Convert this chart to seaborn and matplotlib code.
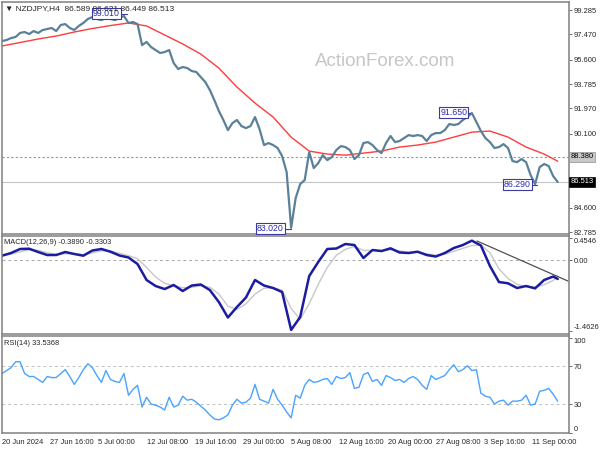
import numpy as np
import pandas as pd
import seaborn as sns
import matplotlib.pyplot as plt

sns.set_style('white')
plt.rcParams['font.family'] = ['Liberation Sans', 'DejaVu Sans']

# NZDJPY H4, un cierre cada 3 velas
price_bars = np.arange(0, 372, 3)
close = [96.98, 97.05, 97.20, 97.28, 97.58, 97.65, 97.50, 97.72, 97.58, 97.80,
         97.87, 97.95, 97.72, 98.17, 98.24, 97.95, 97.80, 98.10, 98.32, 98.62,
         98.76, 98.62, 98.54, 98.69, 98.62, 98.54, 98.69, 98.84, 98.32, 98.39,
         98.24, 96.68, 96.91, 96.53, 96.31, 96.09, 96.16, 96.31, 95.34, 94.90,
         95.05, 94.97, 94.75, 94.68, 94.30, 93.93, 93.34, 92.59, 91.78, 91.11,
         90.36, 90.88, 91.11, 90.66, 90.51, 90.66, 91.33, 90.44, 89.25, 89.40,
         89.25, 89.03, 88.43, 87.24, 83.10, 85.31, 86.35, 86.65, 88.73, 87.54,
         87.91, 88.50, 88.13, 88.36, 88.88, 89.17, 89.10, 88.88, 88.21, 88.50,
         89.40, 89.47, 89.25, 88.88, 88.65, 89.40, 89.92, 89.47, 89.55, 89.77,
         89.99, 89.92, 89.99, 89.92, 89.55, 89.99, 90.14, 90.14, 90.36, 90.81,
         90.74, 90.81, 91.11, 91.33, 91.63, 90.96, 90.29, 89.77, 89.47, 89.03,
         89.10, 89.32, 89.03, 88.06, 87.98, 88.21, 87.98, 87.02, 86.35, 87.61,
         87.84, 87.69, 86.94, 86.51]

# media móvil (línea roja)
ma_bars = list(range(0, 361, 12)) + [369]
ma = [96.61, 96.87, 97.13, 97.35, 97.65, 97.91, 98.13, 98.32, 98.10, 97.43,
      96.76, 96.01, 94.97, 93.56, 92.37, 91.33, 89.84, 88.80, 88.58, 88.50,
      88.65, 88.80, 89.10, 89.25, 89.47, 89.84, 90.21, 90.29, 89.84, 89.10,
      88.58, 88.05]

# MACD(12,26,9)
macd_bars = list(range(0, 367, 6)) + [369]
macd = [0.090, 0.145, 0.228, 0.234, 0.166, 0.104, 0.104, 0.166, 0.125, 0.090,
        0.197, 0.228, 0.172, 0.094, 0.053, -0.082, -0.411, -0.535, -0.597, -0.514,
        -0.638, -0.525, -0.504, -0.618, -0.865, -1.184, -0.968, -0.772, -0.411, -0.525,
        -0.576, -0.659, -1.44, -1.174, -0.329, -0.040, 0.228, 0.238, 0.331, 0.310,
        0.042, 0.207, 0.186, 0.242, 0.156, 0.145, 0.172, 0.104, 0.073, 0.145,
        0.248, 0.310, 0.40, 0.30, -0.123, -0.453, -0.479, -0.576, -0.535, -0.583,
        -0.411, -0.339, -0.389]
signal = [0.10, 0.12, 0.17, 0.21, 0.20, 0.15, 0.12, 0.13, 0.13, 0.11,
          0.15, 0.19, 0.19, 0.14, 0.09, 0.03, -0.15, -0.35, -0.48, -0.53,
          -0.57, -0.56, -0.53, -0.56, -0.70, -0.95, -1.02, -0.90, -0.70, -0.58,
          -0.57, -0.62, -1.00, -1.22, -0.90, -0.50, -0.15, 0.10, 0.22, 0.28,
          0.20, 0.20, 0.19, 0.21, 0.19, 0.16, 0.16, 0.13, 0.10, 0.12,
          0.18, 0.24, 0.30, 0.31, 0.15, -0.18, -0.38, -0.50, -0.55, -0.56,
          -0.51, -0.42, -0.33]
trend_bars = [315.4, 375.8]
trend_vals = [0.393, -0.432]

# RSI(14)
rsi = [62.5, 65.6, 68.7, 74.9, 74.9, 62.5, 59.4, 59.4, 56.3, 53.2,
       59.4, 58.3, 58.3, 62.5, 66.6, 59.4, 51.1, 58.3, 66.6, 72.8,
       68.7, 60.4, 53.2, 65.6, 56.3, 54.2, 53.2, 62.5, 39.7, 45.9,
       50.1, 27.3, 37.6, 30.4, 29.3, 27.3, 24.2, 37.6, 27.3, 29.3,
       38.7, 34.5, 35.5, 32.4, 28.3, 24.2, 19.0, 14.8, 13.8, 15.9,
       19.0, 29.3, 35.5, 31.4, 32.4, 36.6, 51.1, 35.5, 33.5, 31.4,
       45.9, 35.5, 29.3, 22.1, 15.9, 39.7, 36.6, 50.1, 56.3, 53.2,
       54.2, 56.3, 57.3, 51.1, 59.4, 57.3, 58.3, 63.5, 46.9, 48.0,
       61.5, 63.5, 54.2, 56.3, 50.1, 60.4, 58.3, 55.2, 56.3, 53.2,
       57.3, 59.4, 56.3, 50.1, 45.9, 60.4, 56.3, 58.3, 60.4, 66.6,
       71.8, 64.5, 66.6, 70.7, 65.6, 66.6, 41.8, 38.7, 37.6, 30.4,
       33.5, 34.5, 29.3, 33.5, 33.5, 34.5, 39.7, 29.3, 30.4, 43.8,
       44.9, 46.9, 40.7, 33.5]

# máximos / mínimos marcados
hl_bars = [83, 192, 311, 355]
hl_vals = [99.010, 83.020, 91.650, 86.290]
hl_offset = [5, 5, 2, 4]

level_line = 88.380
last_price = 86.513

price_ticks = [99.285, 97.470, 95.600, 93.785, 91.970, 90.100, 84.600, 82.785]
tick_bars = np.arange(0, 353, 32)
tick_labels = ['20 Jun 2024', '27 Jun 16:00', '5 Jul 00:00', '12 Jul 08:00',
               '19 Jul 16:00', '29 Jul 00:00', '5 Aug 08:00', '12 Aug 16:00',
               '20 Aug 00:00', '27 Aug 08:00', '3 Sep 16:00', '11 Sep 00:00']

df_price = pd.DataFrame({'bar': price_bars, 'close': close, 'rsi': rsi})
df_ma = pd.DataFrame({'bar': ma_bars, 'ma': ma})
df_macd = pd.DataFrame({'bar': macd_bars, 'macd': macd, 'signal': signal})

fig = plt.figure(figsize=(6, 4.5), dpi=100)
W, H = 600, 450
ax1 = fig.add_axes([2 / W, 1 - 234 / H, 567 / W, 232 / H])
ax2 = fig.add_axes([2 / W, 1 - 334 / H, 567 / W, 98 / H])
ax3 = fig.add_axes([2 / W, 1 - 433 / H, 567 / W, 97 / H])

fs = 5.4
for ax in (ax1, ax2, ax3):
    ax.set_xlim(0, 376.5)
    ax.yaxis.tick_right()
    ax.tick_params(axis='y', direction='out', length=2.5, width=0.6, color='#555555',
                   labelsize=fs, pad=1.0)
    for s in ax.spines.values():
        s.set_color('#808080')
        s.set_linewidth(1.1)

# panel principal
ax1.axhline(level_line, color='#8a9a9a', ls=(0, (2, 2)), lw=0.8)
ax1.axhline(last_price, color='#c4c4c4', lw=0.8)
sns.lineplot(data=df_ma, x='bar', y='ma', ax=ax1, color='#ff3c3c', lw=1.0,
             estimator=None, sort=False)
sns.lineplot(data=df_price, x='bar', y='close', ax=ax1, color='#5a8199', lw=1.6,
             estimator=None, sort=False)
ax1.set_ylim(82.64, 99.88)
ax1.set_yticks(price_ticks)
ax1.set_yticklabels([f'{v:.3f}' for v in price_ticks])
ax1.set_xticks([])
ax1.set_xlabel('')
ax1.set_ylabel('')

for b, v, o in zip(hl_bars, hl_vals, hl_offset):
    ax1.plot([b - o, b], [v, v], color='#3a3aa0', lw=0.8)
    ax1.text(b - o, v, f'{v:.3f}', ha='right', va='center', fontsize=6.3,
             color='#2a2ab8',
             bbox=dict(boxstyle='square,pad=0.12', fc='white', ec='#3a3aa0', lw=0.8))

ax1.text(1.003, level_line, f'{level_line:.3f}', transform=ax1.get_yaxis_transform(),
         ha='left', va='center', fontsize=fs, color='black',
         bbox=dict(boxstyle='square,pad=0.18', fc='#c8c8c8', ec='#909090', lw=0.5))
ax1.text(1.003, last_price, f'{last_price:.3f}', transform=ax1.get_yaxis_transform(),
         ha='left', va='center', fontsize=fs, color='white',
         bbox=dict(boxstyle='square,pad=0.18', fc='black', ec='black', lw=0.5))

ax1.text(0.005, 0.985, '\u25bc NZDJPY,H4  86.589 86.621 86.449 86.513',
         transform=ax1.transAxes, ha='left', va='top', fontsize=6,
         family=['Liberation Sans', 'DejaVu Sans'])
fig.text(385 / W, 1 - 62 / H, 'ActionForex.com', ha='center', va='center',
         fontsize=13.5, color='#c6c6c6')

# MACD
ax2.axhline(0, color='#a8a8a8', ls=(0, (3, 3)), lw=0.7)
sns.lineplot(data=df_macd, x='bar', y='signal', ax=ax2, color='#c8c8c8', lw=1.0,
             estimator=None, sort=False)
sns.lineplot(data=df_macd, x='bar', y='macd', ax=ax2, color='#1c1ca0', lw=1.8,
             estimator=None, sort=False)
sns.lineplot(x=trend_bars, y=trend_vals, ax=ax2, color='#505050', lw=0.9)
ax2.set_ylim(-1.524, 0.496)
ax2.set_yticks([0.4546, 0.0, -1.4626])
ax2.set_yticklabels(['0.4546', '0.00', '-1.4626'])
lbls = ax2.get_yticklabels()
lbls[0].set_va('top')
lbls[2].set_va('bottom')
ax2.set_xticks([])
ax2.set_xlabel('')
ax2.set_ylabel('')
ax2.text(0.004, 0.97, 'MACD(12,26,9) -0.3890 -0.3303', transform=ax2.transAxes,
         ha='left', va='top', fontsize=fs)

# RSI
for lv in (70, 30):
    ax3.axhline(lv, color='#c0c0c0', ls=(0, (3, 3)), lw=0.7)
sns.lineplot(data=df_price, x='bar', y='rsi', ax=ax3, color='#4aa3ff', lw=1.0,
             estimator=None, sort=False)
ax3.set_ylim(0, 102)
ax3.set_yticks([100, 70, 30, 0])
ax3.set_yticklabels(['100', '70', '30', '0'])
lbls = ax3.get_yticklabels()
lbls[0].set_va('top')
lbls[3].set_va('bottom')
ax3.set_xticks(tick_bars)
ax3.set_xticklabels(tick_labels, ha='left', fontsize=fs)
ax3.tick_params(axis='x', direction='out', length=3, width=0.6, color='#555555', pad=1.5)
ax3.set_xlabel('')
ax3.set_ylabel('')
ax3.text(0.004, 0.96, 'RSI(14) 33.5368', transform=ax3.transAxes,
         ha='left', va='top', fontsize=fs)

fig.savefig('out.png', dpi=100, facecolor='white')
